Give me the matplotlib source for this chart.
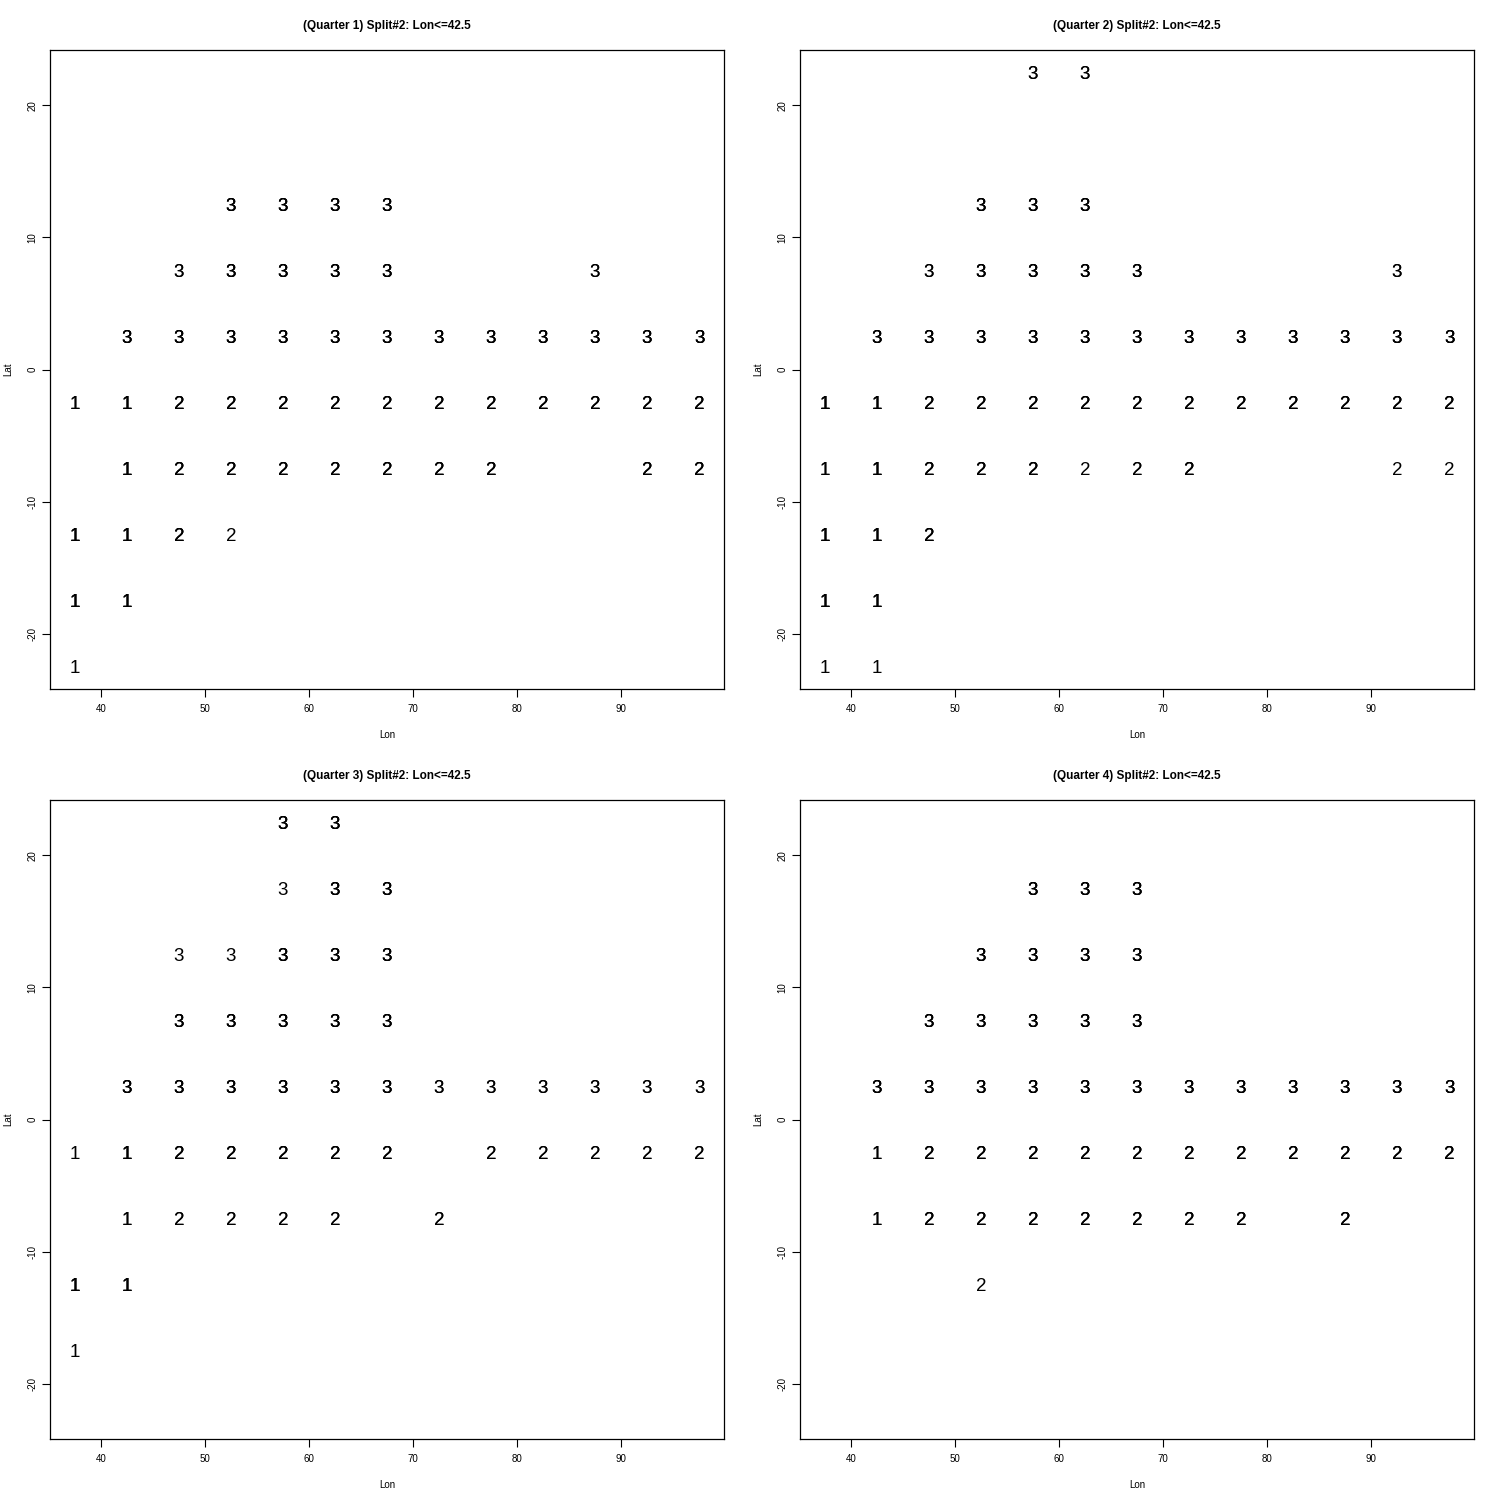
import numpy as np
import matplotlib
matplotlib.use("Agg")
import matplotlib.pyplot as plt

plt.rcParams['font.family'] = ['Liberation Sans', 'DejaVu Sans']
plt.rcParams['axes.unicode_minus'] = False

# Grid cell centres
lon_centers = [37.5, 42.5, 47.5, 52.5, 57.5, 62.5, 67.5, 72.5, 77.5, 82.5, 87.5, 92.5, 97.5]
lat_centers = [22.5, 17.5, 12.5, 7.5, 2.5, -2.5, -7.5, -12.5, -17.5, -22.5]

# Cluster labels per cell (rows = lat_centers top->bottom, cols = lon_centers), '.' = no data
q1_labels = [
    ".............",
    ".............",
    "...3333......",
    "..33333...3..",
    ".333333333333",
    "1122222222222",
    ".12222222..22",
    "1122.........",
    "11...........",
    "1............",
]
# overplot counts (how many times the label was drawn on the same cell)
q1_counts = [
    ".............",
    ".............",
    "...3333......",
    "..23333...2..",
    ".333333333333",
    "2333333333333",
    ".33333333..33",
    "3331.........",
    "33...........",
    "1............",
]

q2_labels = [
    "....33.......",
    ".............",
    "...333.......",
    "..33333....3.",
    ".333333333333",
    "1122222222222",
    "11222222...22",
    "112..........",
    "11...........",
    "11...........",
]
q2_counts = [
    "....22.......",
    ".............",
    "...333.......",
    "..23333....2.",
    ".333333333333",
    "3333333333333",
    "23333123...11",
    "333..........",
    "33...........",
    "11...........",
]

q3_labels = [
    "....33.......",
    "....333......",
    "..33333......",
    "..33333......",
    ".333333333333",
    "1122222.22222",
    ".12222.2.....",
    "11...........",
    "1............",
    ".............",
]
q3_counts = [
    "....33.......",
    "....133......",
    "..11333......",
    "..33333......",
    ".333333222222",
    "1333333.22222",
    ".22222.2.....",
    "33...........",
    "1............",
    ".............",
]

q4_labels = [
    ".............",
    "....333......",
    "...3333......",
    "..33333......",
    ".333333333333",
    ".122222222222",
    ".12222222.2..",
    "...2.........",
    ".............",
    ".............",
]
q4_counts = [
    ".............",
    "....333......",
    "...3333......",
    "..33333......",
    ".333333333333",
    ".233333333333",
    ".23333333.3..",
    "...1.........",
    ".............",
    ".............",
]

quarters = ["Quarter 1", "Quarter 2", "Quarter 3", "Quarter 4"]
split_text = "Split#2: Lon<=42.5"
label_grids = [q1_labels, q2_labels, q3_labels, q4_labels]
count_grids = [q1_counts, q2_counts, q3_counts, q4_counts]

W = H = 1500
fig = plt.figure(figsize=(15, 15), dpi=100)
fig.patch.set_facecolor('white')

# panel boxes in pixels: (left, top, right, bottom)
boxes = [(50, 50, 724, 689), (800, 50, 1474, 689),
         (50, 800, 724, 1439), (800, 800, 1474, 1439)]

for i, (l, t, r, b) in enumerate(boxes):
    ax = fig.add_axes([l / W, 1 - b / H, (r - l) / W, (b - t) / H])
    labs = label_grids[i]
    cnts = count_grids[i]
    for ri, lat in enumerate(lat_centers):
        for ci, lon in enumerate(lon_centers):
            ch = labs[ri][ci]
            if ch == '.':
                continue
            c = cnts[ri][ci]
            n = int(c) if c != '.' else 1
            for _ in range(n):
                ax.text(lon, lat, ch, ha='center', va='center_baseline',
                        fontsize=13.5, color='black')
    ax.set_xlim(35.1, 99.9)
    ax.set_ylim(-24.2, 24.2)
    ax.set_xticks([40, 50, 60, 70, 80, 90])
    ax.set_yticks([-20, -10, 0, 10, 20])
    ax.tick_params(axis='x', length=6, width=0.8, labelsize=7, pad=5, color='black')
    ax.tick_params(axis='y', length=6, width=0.8, labelsize=7, pad=3, color='black')
    for lab in ax.get_yticklabels():
        lab.set_rotation(90)
        lab.set_va('center')
    for sp in ax.spines.values():
        sp.set_linewidth(0.9)
        sp.set_color('black')
    ax.set_xlabel("Lon", fontsize=7, labelpad=11)
    ax.set_ylabel("Lat", fontsize=7, labelpad=10)
    ax.set_title(f"({quarters[i]}) {split_text}", fontsize=8.5, fontweight='bold', pad=15)

fig.savefig("out.png", dpi=100, facecolor='white')
